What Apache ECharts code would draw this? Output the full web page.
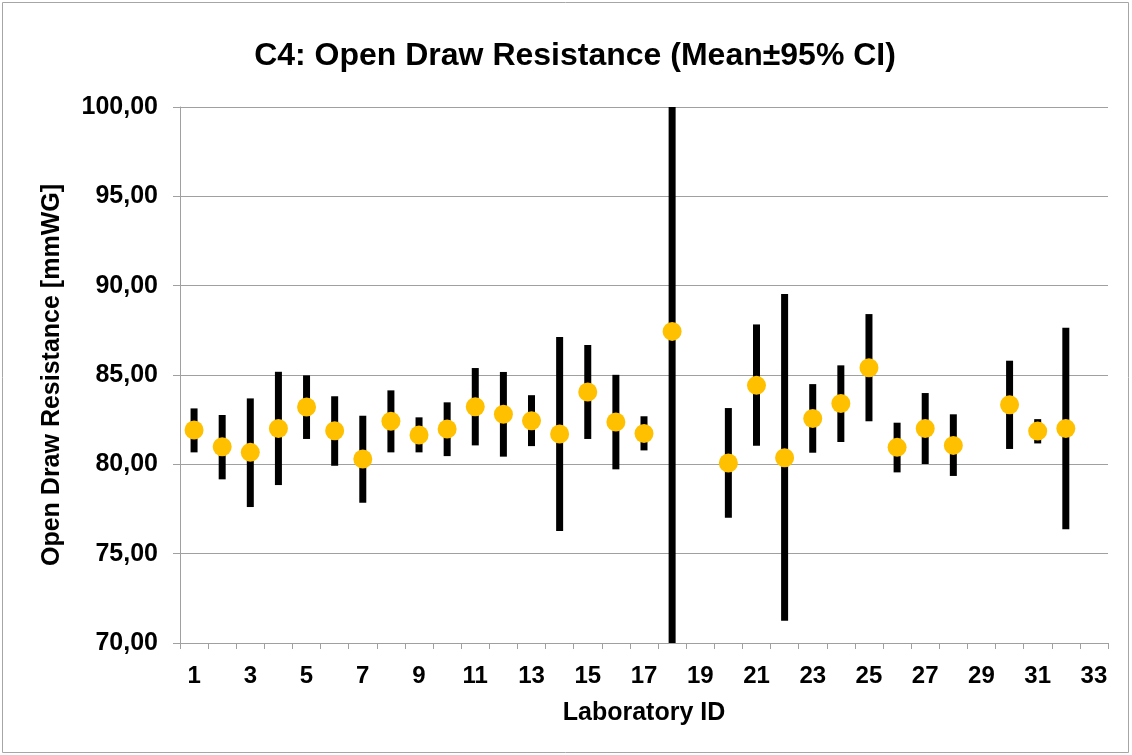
<!DOCTYPE html>
<html>
<head>
<meta charset="utf-8">
<script src="https://cdn.jsdelivr.net/npm/echarts@6/dist/echarts.min.js"></script>
<style>
html,body{margin:0;padding:0;background:#fff;}
#chart{width:1132px;height:755px;}
</style>
</head>
<body>
<div id="chart"></div>
<script>
const labIds = ['1','2','3','4','5','6','7','8','9','10','11','12','13','14','15','16','17','18','19','20','21','22','23','24','25','26','27','28','29','30','31','32','33'];
const means = [81.92,80.98,80.67,82.01,83.21,81.88,80.30,82.41,81.64,81.98,83.22,82.80,82.44,81.70,84.05,82.37,81.73,87.44,null,80.07,84.42,80.37,82.57,83.41,85.41,80.95,82.01,81.06,null,83.34,81.86,82.01,null];
const lowerCI = [80.67,79.16,77.61,78.84,81.42,79.92,77.85,80.67,80.67,80.46,81.06,80.43,81.02,76.27,81.42,79.72,80.78,64.80,null,77.01,81.04,71.25,80.65,81.25,82.41,79.55,80.02,79.35,null,80.86,81.17,76.36,null];
const upperCI = [83.13,82.76,83.69,85.18,84.98,83.81,82.72,84.14,82.63,83.47,85.39,85.17,83.87,87.12,86.68,85.01,82.69,110.00,null,83.15,87.83,89.53,84.49,85.54,88.41,82.33,83.99,82.80,null,85.80,82.53,87.64,null];
const yTicks = {min:70, max:100, interval:5};

const errData = labIds.map((id,i)=> lowerCI[i]==null ? [i,'-','-'] : [i, lowerCI[i], upperCI[i]]);
const meanData = means.map(v => v==null ? '-' : v);

const chart = echarts.init(document.getElementById('chart'));
const FONT = 'Liberation Sans, Arial, sans-serif';
chart.setOption({
  animation:false,
  backgroundColor:'#fff',
  title:{
    text:'C4: Open Draw Resistance (Mean\u00B195% CI)',
    left:570, top:35, textAlign:'center',
    textStyle:{fontFamily:FONT, fontWeight:'bold', fontSize:32, color:'#000'}
  },
  graphic:[{type:'rect', shape:{x:2.5,y:2.5,width:1126,height:750}, style:{fill:'none', stroke:'#a6a6a6', lineWidth:1}, silent:true}],
  grid:{left:180, right:24, top:107, bottom:112},
  xAxis:{
    type:'category', data:labIds, boundaryGap:true,
    name:'Laboratory ID', nameLocation:'middle', nameGap:58,
    nameTextStyle:{fontFamily:FONT, fontWeight:'bold', fontSize:25, color:'#000'},
    axisLine:{lineStyle:{color:'#a0a0a0', width:1}},
    axisTick:{show:true, interval:0, alignWithLabel:false, length:6, lineStyle:{color:'#a0a0a0'}},
    axisLabel:{interval:1, margin:21, fontFamily:FONT, fontWeight:'bold', fontSize:24, color:'#000'},
    splitLine:{show:false}
  },
  yAxis:{
    type:'value', min:yTicks.min, max:yTicks.max, interval:yTicks.interval,
    name:'Open Draw Resistance [mmWG]', nameLocation:'middle', nameGap:115,
    nameTextStyle:{fontFamily:FONT, fontWeight:'bold', fontSize:25, color:'#000'},
    axisLine:{show:true, lineStyle:{color:'#a0a0a0', width:1}},
    axisTick:{show:true, length:7, lineStyle:{color:'#a0a0a0'}},
    axisLabel:{margin:22, fontFamily:FONT, fontWeight:'bold', fontSize:25, color:'#000',
      formatter:v=>v.toFixed(2).replace('.',',')},
    splitLine:{show:true, lineStyle:{color:'#a0a0a0', width:1}}
  },
  series:[
    {
      type:'custom', clip:true, data:errData,
      encode:{x:0, y:[1,2]},
      renderItem:function(params, api){
        const lo = api.value(1), hi = api.value(2);
        if (isNaN(lo) || isNaN(hi)) return null;
        const p1 = api.coord([api.value(0), lo]);
        const p2 = api.coord([api.value(0), hi]);
        return {type:'line', shape:{x1:p1[0], y1:p1[1], x2:p2[0], y2:p2[1]},
                style:{stroke:'#000', lineWidth:7}};
      },
      z:2
    },
    {
      type:'scatter', data:meanData, symbol:'circle', symbolSize:19,
      itemStyle:{color:'#FFC000', opacity:1}, z:3
    }
  ]
});
</script>
</body>
</html>
